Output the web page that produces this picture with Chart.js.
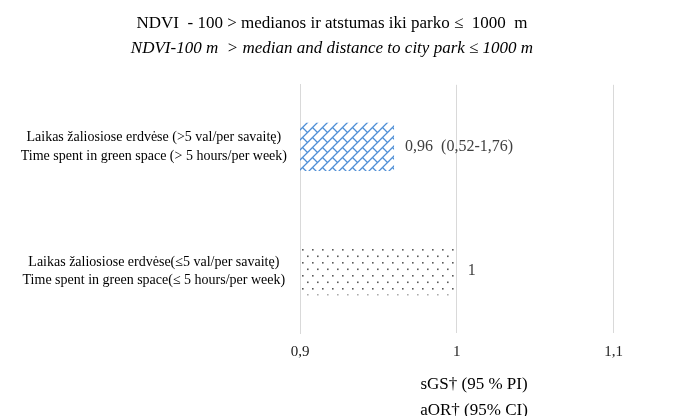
<!DOCTYPE html>
<html>
<head>
<meta charset="utf-8">
<script src="https://cdn.jsdelivr.net/npm/chart.js@4.4.0/dist/chart.umd.min.js"></script>
<style>body{margin:0;background:#fff}</style>
</head>
<body>
<canvas id="bar-chart_ndvi" width="674" height="416"></canvas>
<script>
/*==================== NDVI / parko atstumas: aOR ====================*/
const titleLt = 'NDVI  - 100 > medianos ir atstumas iki parko ≤  1000  m';
const titleEn = 'NDVI-100 m  > median and distance to city park ≤ 1000 m';
const categories = [
    ['Laikas žaliosiose erdvėse (>5 val/per savaitę)', 'Time spent in green space (> 5 hours/per week)'],
    ['Laikas žaliosiose erdvėse(≤5 val/per savaitę)', 'Time spent in green space(≤ 5 hours/per week)']
];
const aorValues = [0.96, 1];
const aorLabels = ['0,96  (0,52-1,76)', '1'];
const axisTicks = [0.9, 1.0, 1.1];
const axisTitle = ['sGS† (95 % PI)', 'aOR† (95% CI)'];

Chart.defaults.font.family = '"Liberation Serif", "Times New Roman", serif';
Chart.defaults.color = '#222';

// uzpildai: plytos (melyna) ir taskai (pilka)
function brickPattern() {
    const s = 10;
    const c = document.createElement('canvas');
    c.width = s; c.height = s;
    const g = c.getContext('2d');
    g.strokeStyle = '#4f8fd6';
    g.lineWidth = 1.3;
    for (const dx of [-s, 0, s]) {
        for (const dy of [-s, 0, s]) {
            g.beginPath();
            g.moveTo(dx, dy + s); g.lineTo(dx + s, dy);
            g.moveTo(dx + s / 4, dy + 3 * s / 4); g.lineTo(dx + 3 * s / 4, dy + 5 * s / 4);
            g.stroke();
        }
    }
    return g.createPattern(c, 'repeat');
}
function dotPattern() {
    const c = document.createElement('canvas');
    c.width = 10; c.height = 13;
    const g = c.getContext('2d');
    g.fillStyle = '#5a5a5a';
    g.fillRect(2, 2, 1.6, 1.6);
    g.fillRect(7, 8.5, 1.6, 1.6);
    return g.createPattern(c, 'repeat');
}

const valueLabels = {
    id: 'valueLabels',
    afterDatasetsDraw(chart) {
        const ctx = chart.ctx;
        ctx.save();
        ctx.font = '16px "Liberation Serif"';
        ctx.fillStyle = '#404040';
        ctx.textBaseline = 'middle';
        chart.getDatasetMeta(0).data.forEach((bar, i) => {
            ctx.fillText(aorLabels[i], bar.x + 11, bar.y);
        });
        ctx.restore();
    }
};

const ndvi_chart = new Chart(document.getElementById('bar-chart_ndvi'), {
    type: 'bar',
    data: {
        labels: categories,
        datasets: [{
            data: aorValues,
            backgroundColor: [brickPattern(), dotPattern()],
            borderWidth: 0,
            categoryPercentage: 1,
            barPercentage: 0.39
        }]
    },
    plugins: [valueLabels],
    options: {
        indexAxis: 'y',
        responsive: false,
        animation: false,
        layout: { padding: { left: 16, right: 26, top: 0, bottom: -7 } },
        plugins: {
            legend: { display: false },
            tooltip: { enabled: false },
            title: {
                display: true,
                text: titleLt,
                color: '#000',
                font: { size: 17, weight: 'normal', lineHeight: 1.2 },
                padding: { top: 13, bottom: 5 }
            },
            subtitle: {
                display: true,
                text: titleEn,
                color: '#000',
                font: { size: 17, style: 'italic', lineHeight: 1.2 },
                padding: { top: 0, bottom: 26 }
            }
        },
        scales: {
            x: {
                min: 0.9,
                max: 1.122,
                afterBuildTicks: scale => { scale.ticks = axisTicks.map(v => ({ value: v })); },
                grid: { color: '#d9d9d9', drawTicks: false },
                border: { display: false },
                ticks: {
                    padding: 10,
                    font: { size: 15 },
                    callback: v => String(v).replace('.', ',')
                },
                title: {
                    display: true,
                    text: axisTitle,
                    color: '#000',
                    font: { size: 17, lineHeight: 1.5 },
                    padding: { top: 1, bottom: 0 }
                }
            },
            y: {
                afterFit: scale => { scale.width = 284; },
                grid: { display: false, drawTicks: false },
                border: { display: true, color: '#d9d9d9' },
                ticks: {
                    crossAlign: 'center',
                    padding: 13,
                    color: '#000',
                    font: { size: 14, lineHeight: 1.29 }
                }
            }
        }
    }
});
</script>
</body>
</html>
